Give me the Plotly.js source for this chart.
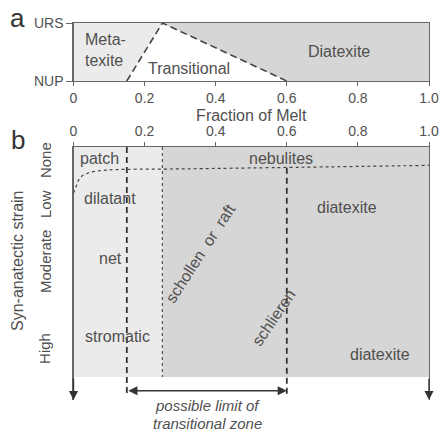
<!DOCTYPE html>
<html>
<head>
<meta charset="utf-8">
<script src="https://cdn.plot.ly/plotly-3.0.1.min.js"></script>
<style>html,body{margin:0;padding:0;background:#fff;}#chart{width:440px;height:433px;}</style>
</head>
<body>
<div id="chart"></div>
<script>
// ---------- data ----------
const meltTicks = [0, 0.2, 0.4, 0.6, 0.8, 1.0];
const meltTickText = ['0', '0.2', '0.4', '0.6', '0.8', '1.0'];
const stateTicks = [0, 1];
const stateTickText = ['NUP', 'URS'];

// panel a: region polygons (fraction of melt, state)
const metatexiteX = [0, 0.15, 0.25, 0, 0];
const metatexiteY = [0, 0, 1, 1, 0];
const diatexiteX = [0.25, 1, 1, 0.6, 0.25];
const diatexiteY = [1, 1, 0, 0, 1];
const boundaryX = [0.15, 0.25, 0.6];
const boundaryY = [0, 1, 0];

// panel b: strain (0 = none, 1 = high)
const lightX = [0, 0.25, 0.25, 0, 0];
const lightY = [0, 0, 1, 1, 0];
const darkX = [0.25, 1, 1, 0.25, 0.25];
const darkY = [0, 0, 1, 1, 0];
const curveX = [0, 0.004, 0.018, 0.041, 0.075, 0.122, 0.252, 0.412, 1.0];
const curveY = [0.2, 0.187, 0.135, 0.113, 0.103, 0.098, 0.096, 0.093, 0.08];
const dashLeftX = [0.15, 0.15];
const dashLeftY = [0, 1.075];
const dashRightX = [0.6, 0.6];
const dashRightY = [0.09, 1.075];
const dotX = [0.25, 0.25];
const dotY = [0, 1];
const strainLabels = ['None', 'Low', 'Moderate', 'High'];
const strainPos = [0.057, 0.248, 0.5, 0.878];

const LIGHT = '#ebebeb', DARK = '#d6d6d6', TXT = '#505050', AX = '#666666', LN = '#444444';
const FONT = 'Liberation Sans, Arial, sans-serif';

const traces = [
  {x: metatexiteX, y: metatexiteY, xaxis: 'x', yaxis: 'y', mode: 'lines', fill: 'toself', fillcolor: LIGHT, line: {width: 0}, hoverinfo: 'skip'},
  {x: diatexiteX, y: diatexiteY, xaxis: 'x', yaxis: 'y', mode: 'lines', fill: 'toself', fillcolor: DARK, line: {width: 0}, hoverinfo: 'skip'},
  {x: boundaryX, y: boundaryY, xaxis: 'x', yaxis: 'y', mode: 'lines', line: {color: LN, width: 1.6, dash: '7px,4px'}},
  {x: lightX, y: lightY, xaxis: 'x2', yaxis: 'y2', mode: 'lines', fill: 'toself', fillcolor: LIGHT, line: {width: 0}, hoverinfo: 'skip'},
  {x: darkX, y: darkY, xaxis: 'x2', yaxis: 'y2', mode: 'lines', fill: 'toself', fillcolor: DARK, line: {width: 0}, hoverinfo: 'skip'},
  {x: curveX, y: curveY, xaxis: 'x2', yaxis: 'y2', mode: 'lines', line: {color: LN, width: 1.2, dash: 'dot', shape: 'spline'}},
  {x: dotX, y: dotY, xaxis: 'x2', yaxis: 'y2', mode: 'lines', line: {color: LN, width: 1.1, dash: 'dot'}},
  {x: dashLeftX, y: dashLeftY, xaxis: 'x2', yaxis: 'y2', mode: 'lines', line: {color: '#333', width: 1.8, dash: '6px,4px'}},
  {x: dashRightX, y: dashRightY, xaxis: 'x2', yaxis: 'y2', mode: 'lines', line: {color: '#333', width: 1.8, dash: '6px,4px'}}
];

const W = 440, H = 433;
const xd = [73.5 / W, 429 / W];
const ann = [];
function t(text, x, y, xref, yref, opts) {
  ann.push(Object.assign({text: text, x: x, y: y, xref: xref, yref: yref, showarrow: false,
    xanchor: 'center', yanchor: 'middle',
    font: {family: FONT, size: 16, color: TXT}}, opts || {}));
}
// panel a labels
t('Meta-', 0.027, 0.707, 'x', 'y', {xanchor: 'left'});
t('texite', 0.027, 0.362, 'x', 'y', {xanchor: 'left'});
t('Transitional', 0.326, 0.207, 'x', 'y');
t('Diatexite', 0.747, 0.517, 'x', 'y');
// panel b labels
t('patch', 0.072, 0.048, 'x2', 'y2');
t('dilatant', 0.103, 0.222, 'x2', 'y2');
t('net', 0.103, 0.483, 'x2', 'y2');
t('stromatic', 0.125, 0.822, 'x2', 'y2');
t('nebulites', 0.584, 0.048, 'x2', 'y2');
t('diatexite', 0.769, 0.261, 'x2', 'y2');
t('diatexite', 0.862, 0.904, 'x2', 'y2');
t('schollen  or  raft', 0.356, 0.461, 'x2', 'y2', {textangle: -57});
t('schlieren', 0.564, 0.743, 'x2', 'y2', {textangle: -56});
strainLabels.forEach(function (s, i) {
  t(s, 45 / W, strainPos[i], 'paper', 'y2', {textangle: -90, font: {family: FONT, size: 15, color: TXT}});
});
t('Syn-anatectic strain', 17 / W, 1 - 261 / H, 'paper', 'paper', {textangle: -90});
t('a', 17 / W, 1 - 18 / H, 'paper', 'paper', {font: {family: FONT, size: 26, color: '#333'}});
t('b', 18 / W, 1 - 140 / H, 'paper', 'paper', {font: {family: FONT, size: 26, color: '#333'}});
t('<i>possible limit of</i>', 207 / W, 1 - 405 / H, 'paper', 'paper', {font: {family: FONT, size: 15, color: TXT}});
t('<i>transitional zone</i>', 207 / W, 1 - 423 / H, 'paper', 'paper', {font: {family: FONT, size: 15, color: TXT}});
// arrows
function arrow(x, y, axv, ayv, side) {
  ann.push({x: x, y: y, ax: axv, ay: ayv, xref: 'x2', yref: 'y2', axref: 'x2', ayref: 'y2', text: '',
    showarrow: true, arrowhead: 2, arrowsize: 1.3, arrowwidth: 1.4, arrowcolor: '#333', arrowside: side || 'end', startarrowhead: 2, startarrowsize: 1.3});
}
arrow(0, 1.1, 0, 1.0);
arrow(1, 1.1, 1, 1.0);
arrow(0.6, 1.06, 0.15, 1.06, 'end+start');

const axCommon = {showgrid: false, zeroline: false, showline: true, linecolor: AX, linewidth: 1.2,
  ticks: 'outside', ticklen: 4, tickcolor: AX, tickfont: {family: FONT, size: 14, color: TXT}};

const layout = {
  width: W, height: H, margin: {l: 0, r: 0, t: 0, b: 0},
  paper_bgcolor: '#fff', plot_bgcolor: 'rgba(0,0,0,0)', showlegend: false,
  xaxis: Object.assign({}, axCommon, {domain: xd, anchor: 'y', range: [0, 1], tickvals: meltTicks, ticktext: meltTickText,
    mirror: true, title: {text: 'Fraction of Melt', font: {family: FONT, size: 16, color: TXT}, standoff: 4}}),
  yaxis: Object.assign({}, axCommon, {domain: [1 - 81 / H, 1 - 23 / H], anchor: 'x', range: [0, 1],
    tickvals: stateTicks, ticktext: stateTickText, mirror: true, ticklen: 6}),
  xaxis2: Object.assign({}, axCommon, {domain: xd, anchor: 'y2', side: 'top', range: [0, 1], tickvals: meltTicks, ticktext: meltTickText}),
  yaxis2: Object.assign({}, axCommon, {domain: [1 - 400 / H, 1 - 147 / H], anchor: 'x2', range: [1.1, 0],
    showticklabels: false, ticks: '', mirror: true}),
  annotations: ann
};

Plotly.newPlot('chart', traces, layout, {displayModeBar: false, staticPlot: true});
</script>
</body>
</html>
